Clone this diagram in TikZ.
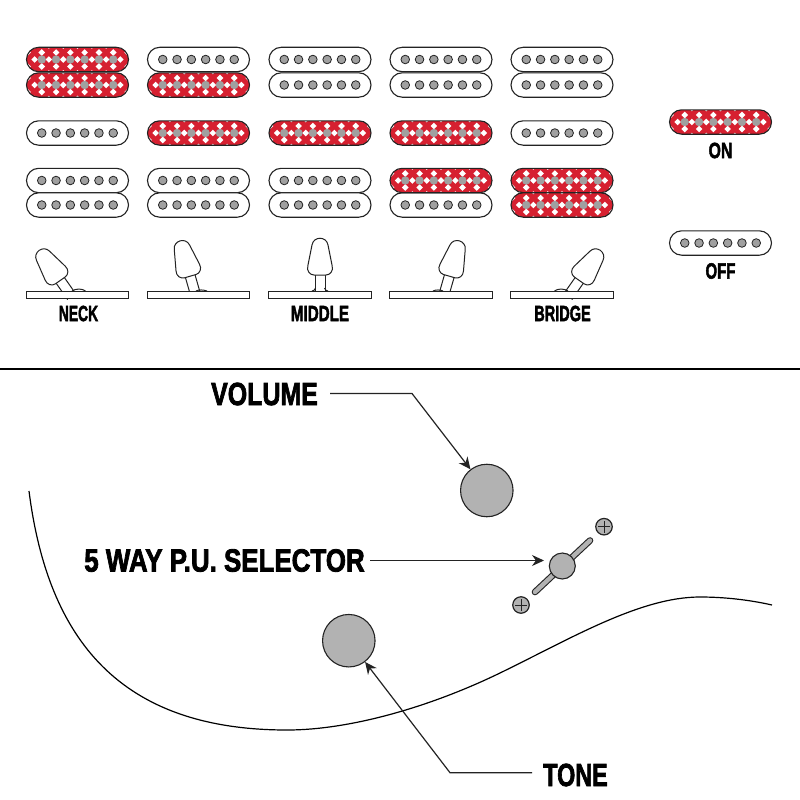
\documentclass[tikz,border=0pt]{standalone}
\usepackage{fontspec}
\usepackage{xcolor}
\usetikzlibrary{arrows.meta,positioning,calc}
\newfontfamily\labelfont[BoldFeatures={FakeBold=2.6}]{Liberation Sans}
\definecolor{PickupRed}{RGB}{214,32,48}
\definecolor{PoleGray}{RGB}{160,160,160}
\definecolor{KnobGray}{RGB}{178,178,178}
\definecolor{LineDark}{RGB}{35,35,35}

\begin{document}
\begin{tikzpicture}[x=1pt,y=-1pt,
        pole/.style={circle,draw=LineDark,fill=PoleGray,line width=0.8pt,
                     inner sep=0pt,minimum size=8.6pt},
        polered/.style={circle,fill=PoleGray,inner sep=0pt,minimum size=8.4pt},
        gem/.style={fill=white},
        plate/.style={draw=LineDark,fill=white,line width=1pt,inner sep=0pt,
                      minimum width=102.5pt,minimum height=6.6pt},
        knob/.style={circle,draw=LineDark,fill=KnobGray,line width=1.1pt,
                     inner sep=0pt,minimum size=52.5pt},
        knobsmall/.style={knob,minimum size=26pt},
        screw/.style={knob,minimum size=16.5pt,line width=1.2pt},
        biglbl/.style={font=\labelfont\bfseries\fontsize{32}{32}\selectfont,
                       inner sep=0pt,transform shape},
        smalllbl/.style={font=\labelfont\bfseries\fontsize{22}{22}\selectfont,
                         inner sep=0pt,transform shape},
        arr/.style={-{Stealth[length=12pt,width=11pt]},LineDark,line width=1.2pt},
        offpickup/.pic={
          \draw[LineDark,fill=white,line width=1.1pt,rounded corners=12.2pt]
            (-51,-12.2) rectangle (51,12.2);
          \foreach \p in {-35.75,-21.45,-7.15,7.15,21.45,35.75}
            \node[pole] at (\p,0) {};
        },
        onpickup/.pic={
          \begin{scope}
            \clip[rounded corners=12.2pt] (-51,-12.2) rectangle (51,12.2);
            \fill[PickupRed] (-51,-12.2) rectangle (51,12.2);
            % white lattice
            \foreach \p in {-50.05,-35.75,-21.45,-7.15,7.15,21.45,35.75,50.05}
              \foreach \q in {-7,7}
                \fill[gem] (\p-3.3,\q) -- (\p,\q-3.3) -- (\p+3.3,\q) -- (\p,\q+3.3) -- cycle;
            \foreach \p in {-42.9,-28.6,-14.3,0,14.3,28.6,42.9} {
              \fill[gem] (\p-3.3,0) -- (\p,-3.3) -- (\p+3.3,0) -- (\p,3.3) -- cycle;
              \fill[gem] (\p-2.8,-13.5) -- (\p,-10.7) -- (\p+2.8,-13.5) -- cycle;
              \fill[gem] (\p-2.8,13.5) -- (\p,10.7) -- (\p+2.8,13.5) -- cycle;
            }
          \end{scope}
          \foreach \p in {-35.75,-21.45,-7.15,7.15,21.45,35.75}
            \node[polered] at (\p,0) {};
          \draw[LineDark,line width=1.1pt,rounded corners=12.2pt]
            (-51,-12.2) rectangle (51,12.2);
        },
        lever/.pic={
          \draw[LineDark,fill=white,line width=1pt] (-5,-10) -- (-5,-31) -- (5,-31) -- (5,-10);
          \draw[LineDark,fill=white,line width=1pt]
            (-6,-30) .. controls (-10,-30) and (-13.5,-34) .. (-12.2,-39)
            -- (-8,-60) .. controls (-6.5,-69) and (6.5,-69) .. (8,-60)
            -- (12.2,-39) .. controls (13.5,-34) and (10,-30) .. (6,-30) -- cycle;
        }
      ]
        \useasboundingbox (0,0) rectangle (800,800);
        % pickups, off then on
        \foreach \x/\y in {77.5/133,77.5/180.5,77.5/205,
            198.5/59.5,198.5/180.5,198.5/205,
            320/59.5,320/85,320/180.5,320/205,
            441/59.5,441/85,441/205,
            562/59.5,562/85,562/133,
            720.5/243}
          \pic at (\x,\y) {offpickup};
        \foreach \x/\y in {77.5/59.5,77.5/85,
            198.5/85,198.5/133,
            320/133,
            441/133,441/180.5,
            562/180.5,562/205,
            720.5/122}
          \pic at (\x,\y) {onpickup};
        % levers and plates
        \foreach \x/\a in {77.5/35,198.5/16,441/-16,562/-35}
          \pic[rotate=\a] at (\x,305) {lever};
        \pic at (320,305) {lever};
        \draw[LineDark,line width=1pt] (72,291) .. controls (76,288.4) and (82,288.4) .. (85.5,291);
        \draw[LineDark,line width=1pt] (196,291) .. controls (199,289.6) and (203,289.6) .. (207,291);
        \draw[LineDark,line width=1pt] (433,291) .. controls (436,289.6) and (440,289.6) .. (443,291);
        \draw[LineDark,line width=1pt] (554.5,291) .. controls (558,288.4) and (564,288.4) .. (568,291);
        \draw[LineDark,line width=1pt] (312,291) .. controls (314,290.5) and (315,290) .. (315.5,288);
        \draw[LineDark,line width=1pt] (328,291) .. controls (326,290.5) and (325,290) .. (324.5,288);
        \node[plate] (plateA) at (77.5,294.7) {};
        \node[plate] (plateB) at (198.5,294.7) {};
        \node[plate] (plateC) at (320,294.7) {};
        \node[plate] (plateD) at (441,294.7) {};
        \node[plate] (plateE) at (562,294.7) {};
        \node[smalllbl,xscale=0.63] (neck) at (78.5,313.5) {NECK};
        \node[smalllbl,xscale=0.69] (middle) at (320,313.5) {MIDDLE};
        \node[smalllbl,xscale=0.66] (bridge) at (562.5,313.5) {BRIDGE};
        \node[smalllbl,xscale=0.72] (on) at (720.5,150.5) {ON};
        \node[smalllbl,xscale=0.68] (off) at (720.5,271) {OFF};
        % divider
        \coordinate (divleft) at (0,369);
        \coordinate (divright) at (800,369);
        \draw[black,line width=1.5pt] (divleft) -- (divright);
        % body outline
        \coordinate (bodyA) at (29,491);
        \coordinate (bodyB) at (772,605);
        \draw[black,line width=1.2pt] (bodyA)
          .. controls (48,640) and (120,730) .. (287,730)
          .. controls (350,730) and (430,707) .. (500,673)
          .. controls (570,639) and (640,597) .. (700,597)
          .. controls (725,597) and (750,600) .. (bodyB);
        % controls
        \node[knob] (volknob) at (486.8,490.5) {};
        \node[knob] (toneknob) at (348.8,640.7) {};
        \coordinate (barA) at (590,540.5);
        \coordinate (barB) at (535,592);
        \draw[LineDark,line width=6.6pt,line cap=round] (barA) -- (barB);
        \draw[KnobGray,line width=4.4pt,line cap=round] (barA) -- (barB);
        \node[knobsmall] (selknob) at (562.3,566) {};
        \node[screw] (screwA) at (604,526.7) {};
        \node[screw] (screwB) at (521,605) {};
        \foreach \s in {screwA,screwB} {
          \draw[LineDark,line width=1pt] ([xshift=-6pt]\s.center) -- ([xshift=6pt]\s.center);
          \draw[LineDark,line width=1pt] ([yshift=-6pt]\s.center) -- ([yshift=6pt]\s.center);
        }
        % labels and arrows
        \node[biglbl,xscale=0.78] (vollbl) at (264.5,394) {VOLUME};
        \node[biglbl,xscale=0.81] (sellbl) at (224.5,560.5) {5 WAY P.U. SELECTOR};
        \node[biglbl,xscale=0.73] (tonelbl) at (575.5,775) {TONE};
        \coordinate (volstart) at (330,393.5);
        \coordinate (volbend) at (412,393.5);
        \coordinate (selstart) at (370,560.5);
        \coordinate (seltip) at (544,560.5);
        \coordinate (tonestart) at (532,772.7);
        \coordinate (tonebend) at (450,772.7);
        \draw[arr] (volstart) -- (volbend) -- (volknob);
        \draw[arr] (selstart) -- (seltip);
        \draw[arr] (tonestart) -- (tonebend) -- (toneknob);
      \end{tikzpicture}
\end{document}
